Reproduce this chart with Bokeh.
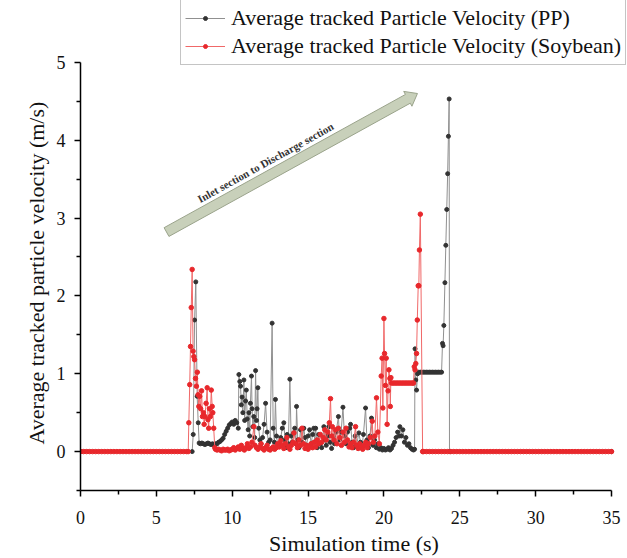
import math
from bokeh.plotting import figure
from bokeh.models import FixedTicker, Title
from bokeh.core.properties import value
from bokeh.embed import file_html
from bokeh.resources import INLINE

# ---------------- data ----------------
pp_time = [0.0, 7.36, 7.43, 7.52, 7.6, 7.69, 7.76, 7.82, 7.9, 8.0, 8.1, 8.2, 8.3, 8.4, 8.5, 8.6, 8.7, 8.8, 8.9,
           9.0, 9.1, 9.2, 9.3, 9.4, 9.5, 9.6, 9.7, 9.8, 9.9, 10.0, 10.1, 10.2, 10.3, 10.4,
           10.44, 10.5, 10.55, 10.6, 10.65, 10.7, 10.77, 10.82, 10.88, 10.93, 10.99, 11.05, 11.1, 11.15, 11.2,
           11.27, 11.31, 11.36, 11.42, 11.48, 11.54, 11.6, 11.64, 11.69, 11.75, 11.82, 11.9, 12.0, 12.1, 12.2,
           12.3, 12.4, 12.5, 12.63, 12.7, 12.78, 12.85, 12.92, 13.0, 13.1, 13.2, 13.3, 13.4, 13.48, 13.55, 13.62,
           13.7, 13.8, 13.88, 13.95, 14.05, 14.12, 14.2, 14.24, 14.32, 14.4, 14.5, 14.6, 14.72, 14.8, 14.9,
           15.0, 15.1, 15.2, 15.3, 15.38, 15.45, 15.5, 15.6, 15.7, 15.8, 15.9, 16.04, 16.1, 16.2, 16.3, 16.37,
           16.45, 16.55, 16.65, 16.75, 16.85, 17.0, 17.08, 17.18, 17.3, 17.4, 17.5, 17.6, 17.75, 17.8, 17.9,
           18.0, 18.1, 18.2, 18.35, 18.45, 18.55, 18.65, 18.79, 18.88, 18.98, 19.08, 19.18, 19.28, 19.38,
           19.5, 19.6, 19.7, 19.8, 19.9, 20.0, 20.1, 20.2, 20.3, 20.4, 20.5, 20.6, 20.7, 20.8, 20.9, 21.0,
           21.05, 21.15, 21.25, 21.35, 21.45, 21.55, 21.65, 21.75, 21.85, 21.95, 22.02, 22.05, 22.1, 22.15,
           22.22, 22.3, 22.4, 22.5, 22.6, 22.7, 22.8, 22.9, 23.0, 23.1, 23.2, 23.3, 23.4, 23.5, 23.6, 23.7,
           23.8, 23.86, 23.9, 23.95, 24.02, 24.08, 24.14, 24.2, 24.25, 24.3, 24.32, 35.0]
pp_vel = [0.0, 0.0, 0.22, 1.69, 2.18, 0.71, 0.37, 0.11, 0.10, 0.11, 0.10, 0.09, 0.10, 0.11, 0.10, 0.09, 0.10, 0.08, 0.10,
          0.10, 0.12, 0.13, 0.15, 0.17, 0.22, 0.26, 0.30, 0.34, 0.36, 0.38, 0.35, 0.40, 0.37, 0.30,
          0.99, 0.90, 0.84, 0.60, 0.70, 0.50, 0.92, 0.40, 0.65, 0.79, 0.42, 0.28, 0.50, 0.20, 0.62,
          0.97, 0.55, 0.32, 0.45, 0.18, 1.04, 0.40, 0.55, 0.82, 0.30, 0.15, 0.10, 0.18, 0.35, 0.62,
          0.25, 0.12, 0.15, 1.65, 0.30, 0.12, 0.67, 0.20, 0.08, 0.10, 0.18, 0.30, 0.37, 0.15, 0.05, 0.22,
          0.10, 0.93, 0.20, 0.12, 0.24, 0.30, 0.10, 0.58, 0.15, 0.05, 0.28, 0.12, 0.30, 0.18, 0.08,
          0.20, 0.28, 0.10, 0.22, 0.30, 0.12, 0.30, 0.05, 0.22, 0.10, 0.05, 0.32, 0.15, 0.08, 0.20, 0.32,
          0.12, 0.04, 0.20, 0.10, 0.25, 0.45, 0.15, 0.25, 0.57, 0.20, 0.10, 0.25, 0.30, 0.35, 0.12,
          0.05, 0.20, 0.08, 0.24, 0.12, 0.05, 0.22, 0.56, 0.15, 0.05, 0.20, 0.43, 0.08, 0.15,
          0.05, 0.10, 0.03, 0.05, 0.02, 0.04, 0.02, 0.03, 0.05, 0.02, 0.04, 0.08, 0.12, 0.18, 0.25, 0.20,
          0.32, 0.20, 0.28, 0.12, 0.18, 0.08, 0.10, 0.05, 0.03, 0.02, 0.03, 1.32, 0.92, 0.79,
          1.00, 1.02, 1.02, 1.02, 1.02, 1.02, 1.02, 1.02, 1.02, 1.02, 1.02, 1.02, 1.02, 1.02, 1.02, 1.02,
          1.02, 1.39, 1.36, 1.62, 2.17, 2.65, 3.11, 3.57, 4.05, 4.53, 0.0, 0.0]

soy_time = [0.0, 0.2, 0.4, 0.6, 0.8, 1.0, 1.2, 1.4, 1.6, 1.8, 2.0, 2.2, 2.4, 2.6, 2.8, 3.0, 3.2, 3.4,
            3.6, 3.8, 4.0, 4.2, 4.4, 4.6, 4.8, 5.0, 5.2, 5.4, 5.6, 5.8, 6.0, 6.2, 6.4, 6.6, 6.8, 7.0, 7.1,
            7.14, 7.2, 7.25, 7.3, 7.36, 7.42, 7.47, 7.52, 7.58, 7.64, 7.7, 7.75, 7.8, 7.86, 7.92, 7.98, 8.04,
            8.1, 8.15, 8.2, 8.28, 8.35, 8.4, 8.45, 8.5, 8.56, 8.62, 8.68, 8.72, 8.78, 8.85, 8.9,
            9.0, 9.1, 9.2, 9.3, 9.4, 9.5, 9.6, 9.7, 9.8, 9.9, 10.0, 10.1, 10.2, 10.3, 10.4, 10.5, 10.6, 10.7,
            10.8, 10.9, 11.0, 11.1, 11.2, 11.3, 11.43, 11.5, 11.6, 11.7, 11.8, 11.9, 12.0, 12.1, 12.2, 12.3,
            12.4, 12.5, 12.6, 12.7, 12.8, 12.9, 13.0, 13.1, 13.2, 13.3, 13.4, 13.5, 13.6, 13.7, 13.8, 13.9,
            14.0, 14.07, 14.2, 14.3, 14.4, 14.5, 14.6, 14.7, 14.8, 14.9, 15.0, 15.1, 15.2, 15.3, 15.4, 15.5,
            15.6, 15.7, 15.8, 15.9, 16.0, 16.1, 16.2, 16.3, 16.4, 16.48, 16.55, 16.6, 16.7, 16.8, 16.9, 17.0,
            17.1, 17.2, 17.3, 17.4, 17.5, 17.6, 17.7, 17.8, 17.9, 18.0, 18.13, 18.2, 18.3, 18.4, 18.5, 18.6,
            18.7, 18.8, 18.9, 19.0, 19.1, 19.23, 19.3, 19.4, 19.51, 19.6, 19.7, 19.82, 19.88, 19.93, 20.0,
            20.04, 20.1, 20.15, 20.21, 20.27, 20.33, 20.39, 20.42, 20.46, 20.5, 20.6, 20.7, 20.8, 20.9, 21.0,
            21.1, 21.2, 21.3, 21.4, 21.5, 21.6, 21.7, 21.8, 21.9, 21.95, 22.0, 22.05, 22.1, 22.15, 22.2, 22.26,
            22.3, 22.34, 22.4, 22.55,
            22.6, 22.8, 23.0, 23.2, 23.4, 23.6, 23.8, 24.0, 24.2, 24.4, 24.6, 24.8, 25.0, 25.2, 25.4, 25.6,
            25.8, 26.0, 26.2, 26.4, 26.6, 26.8, 27.0, 27.2, 27.4, 27.6, 27.8, 28.0, 28.2, 28.4, 28.6, 28.8,
            29.0, 29.2, 29.4, 29.6, 29.8, 30.0, 30.2, 30.4, 30.6, 30.8, 31.0, 31.2, 31.4, 31.6, 31.8, 32.0,
            32.2, 32.4, 32.6, 32.8, 33.0, 33.2, 33.4, 33.6, 33.8, 34.0, 34.2, 34.4, 34.6, 34.8, 35.0]
soy_vel = [0.0, 0.0, 0.0, 0.0, 0.0, 0.0, 0.0, 0.0, 0.0, 0.0, 0.0, 0.0, 0.0, 0.0, 0.0, 0.0, 0.0, 0.0,
           0.0, 0.0, 0.0, 0.0, 0.0, 0.0, 0.0, 0.0, 0.0, 0.0, 0.0, 0.0, 0.0, 0.0, 0.0, 0.0, 0.0, 0.0, 0.0,
           0.37, 0.86, 1.35, 1.85, 2.34, 1.29, 1.22, 1.18, 0.94, 0.84, 1.02, 0.73, 0.58, 0.71, 0.55, 0.78, 0.45,
           0.50, 0.35, 0.45, 0.62, 0.82, 0.41, 0.30, 0.55, 0.45, 0.79, 0.58, 0.50, 0.30, 0.05, 0.03,
           0.02, 0.03, 0.02, 0.01, 0.03, 0.02, 0.02, 0.03, 0.01, 0.02, 0.03, 0.05, 0.02, 0.04, 0.06, 0.03, 0.08, 0.04,
           0.02, 0.05, 0.10, 0.04, 0.06, 0.12, 0.32, 0.08, 0.05, 0.03, 0.06, 0.10, 0.04, 0.02, 0.05, 0.08,
           0.03, 0.02, 0.04, 0.06, 0.03, 0.05, 0.10, 0.06, 0.14, 0.08, 0.04, 0.10, 0.18, 0.06, 0.03, 0.08,
           0.12, 0.24, 0.10, 0.05, 0.15, 0.08, 0.30, 0.10, 0.04, 0.08, 0.03, 0.06, 0.10, 0.05, 0.12, 0.06,
           0.15, 0.10, 0.22, 0.12, 0.18, 0.28, 0.15, 0.25, 0.37, 0.68, 0.20, 0.32, 0.15, 0.28, 0.10, 0.30,
           0.18, 0.08, 0.25, 0.12, 0.30, 0.15, 0.06, 0.10, 0.05, 0.12, 0.32, 0.08, 0.04, 0.10, 0.06, 0.03,
           0.08, 0.12, 0.05, 0.10, 0.18, 0.39, 0.12, 0.20, 0.69, 0.25, 0.10, 0.97, 1.20, 0.56, 1.71,
           1.26, 0.85, 1.20, 0.35, 0.78, 1.05, 0.94, 0.58, 0.95, 0.88, 0.88, 0.88, 0.88, 0.88, 0.88,
           0.88, 0.88, 0.88, 0.88, 0.88, 0.88, 0.88, 0.88, 0.88, 0.88, 1.09, 1.05, 1.13, 1.26, 1.69, 2.13,
           2.13, 2.59, 3.05, 0.0,
           0.0, 0.0, 0.0, 0.0, 0.0, 0.0, 0.0, 0.0, 0.0, 0.0, 0.0, 0.0, 0.0, 0.0, 0.0, 0.0,
           0.0, 0.0, 0.0, 0.0, 0.0, 0.0, 0.0, 0.0, 0.0, 0.0, 0.0, 0.0, 0.0, 0.0, 0.0, 0.0,
           0.0, 0.0, 0.0, 0.0, 0.0, 0.0, 0.0, 0.0, 0.0, 0.0, 0.0, 0.0, 0.0, 0.0, 0.0, 0.0,
           0.0, 0.0, 0.0, 0.0, 0.0, 0.0, 0.0, 0.0, 0.0, 0.0, 0.0, 0.0, 0.0, 0.0, 0.0]

assert len(pp_time) == len(pp_vel)
assert len(soy_time) == len(soy_vel)

x_ticks = [0, 5, 10, 15, 20, 25, 30, 35]
y_ticks = [0, 1, 2, 3, 4, 5]

label_pp = "Average tracked Particle Velocity (PP)"
label_soy = "Average tracked Particle Velocity (Soybean)"
x_title = "Simulation time (s)"
y_title = "Average tracked particle velocity (m/s)"
arrow_text = "Inlet section to Discharge section"
arrow_tail = (5.67, 2.82)
arrow_tip = (22.21, 4.60)

# ---------------- figure ----------------
FONT = "'Liberation Serif', 'Times New Roman', serif"
W, H = 627, 558
BL, BR, BT, BB = 80, 0, 0, 67
FW, FH = W - BL - BR, H - BT - BB
PX_X = 531 / 35.0       # pixels per second (axis 0..35 spans 531 px)
PX_Y = 429 / 5.5        # pixels per m/s (axis -0.5..5 spans 429 px)
X0, Y0 = 0, -0.5
X1 = X0 + FW / PX_X     # frame extends right of 35 for the legend
Y1 = Y0 + FH / PX_Y     # frame extends above 5 for the legend

p = figure(width=W, height=H, x_range=(X0, X1), y_range=(Y0, Y1),
           output_backend="svg", toolbar_location=None,
           min_border_left=BL, min_border_right=BR, min_border_top=BT, min_border_bottom=BB)
p.outline_line_color = None
p.grid.visible = False
p.background_fill_color = "white"

# block arrow annotation (built in screen pixels, converted to data)
tx, ty = arrow_tail[0] * PX_X, arrow_tail[1] * PX_Y
hx, hy = arrow_tip[0] * PX_X, arrow_tip[1] * PX_Y
L = math.hypot(hx - tx, hy - ty)
dx, dy = (hx - tx) / L, (hy - ty) / L
nx, ny = -dy, dx
hw, hh, hl = 5.0, 8.5, 11.0
nkx, nky = hx - dx * hl, hy - dy * hl
pts = [(tx + nx * hw, ty + ny * hw), (nkx + nx * hw, nky + ny * hw), (nkx + nx * hh, nky + ny * hh),
       (hx, hy), (nkx - nx * hh, nky - ny * hh), (nkx - nx * hw, nky - ny * hw), (tx - nx * hw, ty - ny * hw)]
p.patch([a / PX_X for a, b in pts], [b / PX_Y for a, b in pts],
        fill_color="#c8d0ba", line_color="#9aa38b", line_width=1)
ang = math.atan2(hy - ty, hx - tx)
midx, midy = (tx + hx) / 2, (ty + hy) / 2
ox, oy = midx - 23 * dx + nx * 13, midy - 23 * dy + ny * 13
p.text(x=[ox / PX_X], y=[oy / PX_Y], text=[arrow_text], angle=ang,
       text_font=value(FONT), text_font_style="bold", text_font_size="11px",
       text_color="#333333", text_align="center", text_baseline="middle")

# series
p.line(pp_time, pp_vel, line_color="#909090", line_width=1, legend_label=label_pp)
p.scatter(pp_time, pp_vel, size=4, fill_color="#333333", line_color="#333333", legend_label=label_pp)
p.line(soy_time, soy_vel, line_color="#f06868", line_width=1, legend_label=label_soy)
p.scatter(soy_time, soy_vel, size=4.5, fill_color="#e8282c", line_color="#e8282c", legend_label=label_soy)

# axes
p.xaxis.ticker = FixedTicker(ticks=x_ticks, minor_ticks=[t + 2.5 for t in x_ticks[:-1]])
p.yaxis.ticker = FixedTicker(ticks=y_ticks, minor_ticks=[-0.5] + [t + 0.5 for t in y_ticks[:-1]])
p.xaxis.bounds = (x_ticks[0], x_ticks[-1])
p.yaxis.bounds = (-0.5, y_ticks[-1])
for ax in (p.xaxis, p.yaxis):
    ax.axis_line_color = "black"
    ax.axis_line_width = 1.5
    ax.major_tick_line_color = "black"
    ax.major_tick_line_width = 1.5
    ax.minor_tick_line_color = "black"
    ax.minor_tick_line_width = 1.5
    ax.major_tick_in = 0
    ax.major_tick_out = 6
    ax.minor_tick_in = 0
    ax.minor_tick_out = 4
    ax.major_label_text_font = FONT
    ax.major_label_text_font_size = "18px"
    ax.major_label_text_color = "#111111"
p.xaxis.major_label_standoff = 14
p.yaxis.major_label_standoff = 9

p.xaxis.axis_label = x_title
p.xaxis.axis_label_standoff = 4
p.xaxis.axis_label_text_font = FONT
p.xaxis.axis_label_text_font_size = "22px"
p.xaxis.axis_label_text_font_style = "normal"
p.xaxis.axis_label_text_color = "#111111"

# y title as a Title so it can sit on the drawn axis (offset from the frame bottom)
yt = Title(text=y_title, align="left", offset=46, standoff=10)
yt.text_font = FONT
yt.text_font_size = "22px"
yt.text_font_style = "normal"
yt.text_color = "#111111"
p.add_layout(yt, "left")

# legend (location = bottom-left corner, in pixels from the frame's bottom-left)
LEG_H = 2 * 28 + 2 * 4
lg = p.legend[0]
lg.location = (100, FH - 2 - LEG_H)
lg.label_text_font = FONT
lg.label_text_font_size = "22px"
lg.label_text_color = "#111111"
lg.glyph_width = 40
lg.glyph_height = 10
lg.label_height = 28
lg.label_standoff = 6
lg.padding = 4
lg.spacing = 0
lg.margin = 0
lg.border_line_color = "#8a8a8a"
lg.border_line_width = 1.5
lg.background_fill_color = "white"
lg.background_fill_alpha = 1.0

open("out.html", "w").write(file_html(p, INLINE))
